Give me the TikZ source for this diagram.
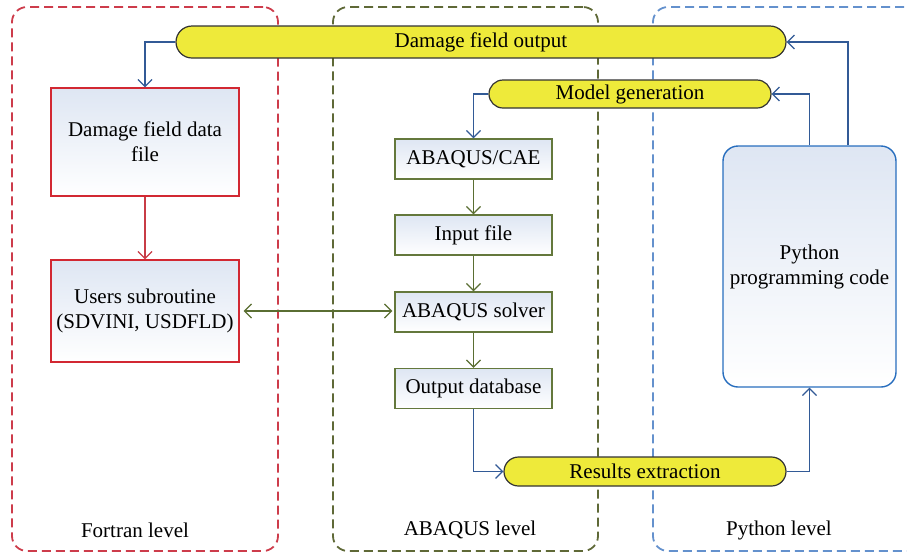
\documentclass[tikz,border=0pt]{standalone}
\usepackage{fontspec}
\setmainfont{Liberation Serif}
\usetikzlibrary{shapes.misc,arrows.meta}

\definecolor{pill}{RGB}{238,234,58}
\definecolor{framered}{RGB}{205,60,75}
\definecolor{framegreen}{RGB}{95,105,55}
\definecolor{frameblue}{RGB}{100,145,205}
\definecolor{boxred}{RGB}{210,40,50}
\definecolor{boxgreen}{RGB}{100,120,60}
\definecolor{boxblue}{RGB}{40,110,190}
\definecolor{lineblue}{RGB}{50,90,150}
\definecolor{linegreen}{RGB}{90,110,50}
\definecolor{linered}{RGB}{200,60,70}
\definecolor{boxfill}{RGB}{222,230,243}

\begin{document}
\begin{tikzpicture}[x=0.5pt,y=-0.5pt,font=\fontsize{10.5}{12.5}\selectfont,
  level/.style={draw,dashed,dash pattern=on 4.5pt off 2.5pt,line width=0.9pt,rounded corners=7.5pt,minimum width=#1,minimum height=272pt,inner sep=0pt},
  step box/.style={draw,line width=0.7pt,top color=boxfill,bottom color=white,align=center,inner sep=0pt},
  pill/.style={rounded rectangle,draw=black!80,line width=0.6pt,fill=pill,inner sep=0pt,minimum height=#1},
  tip/.style={-{Straight Barb[length=3.5pt,width=7pt]},line width=0.6pt},
  blueline/.style={tip,draw=lineblue},
  greenline/.style={tip,draw=linegreen},
  redline/.style={tip,draw=linered}]
  \useasboundingbox (0,0) rectangle (907,554);

  % three levels
  \node[level=133pt,draw=framered] (fortran) at (145,279) {};
  \node[level=132.5pt,draw=framegreen] (abaqus) at (465.5,279) {};
  \node[level=140pt,draw=frameblue] (python) at (793,279) {};
  \node (fortranlbl) at (135,530) {Fortran level};
  \node (abaquslbl) at (470,530) {ABAQUS level};
  \node (pythonlbl) at (779,530) {Python level};

  % yellow stages
  \node[pill=16pt,minimum width=305pt] (dfo) at (481,42) {Damage field output};
  \node[pill=14pt,minimum width=141pt] (modelgen) at (630,94) {Model generation};
  \node[pill=14.5pt,minimum width=141pt] (results) at (645,471.5) {Results extraction};

  % Fortran boxes
  \node[step box,draw=boxred,minimum width=94pt,minimum height=54pt] (datafile) at (145,142) {Damage field data\\file};
  \node[step box,draw=boxred,minimum width=94pt,minimum height=51pt] (subroutine) at (145,311) {Users subroutine\\(SDVINI, USDFLD)};

  % ABAQUS boxes
  \node[step box,draw=boxgreen,minimum width=78.5pt,minimum height=20pt] (cae) at (473.5,159) {ABAQUS/CAE};
  \node[step box,draw=boxgreen,minimum width=78.5pt,minimum height=20pt] (input) at (473.5,235) {Input file};
  \node[step box,draw=boxgreen,minimum width=78.5pt,minimum height=20pt] (solver) at (473.5,312) {ABAQUS solver};
  \node[step box,draw=boxgreen,minimum width=78.5pt,minimum height=20pt] (odb) at (473.5,388.5) {Output database};

  % Python box
  \node[step box,draw=boxblue,rounded corners=7.5pt,minimum width=86.5pt,minimum height=120.5pt] (code) at (809.5,266.5) {Python\\programming code};

  % connectors
  \draw[blueline] (dfo.west) -| (datafile.north);
  \draw[redline] (datafile) -- (subroutine);
  \draw[{Straight Barb[length=3.5pt,width=7pt]}-{Straight Barb[length=3.5pt,width=7pt]},line width=0.6pt,draw=linegreen,shorten <=2pt,shorten >=1pt]
    (subroutine.east) -- (subroutine.east -| solver.west);
  \draw[blueline] (modelgen.west) -| (cae.north);
  \foreach \a/\b in {cae/input,input/solver,solver/odb}{\draw[greenline] (\a) -- (\b); }
  \draw[blueline] (odb.south) |- (results.west);
  \draw[blueline] (results.east) -| (code.south);
  \draw[blueline] (code.north) |- (modelgen.east);
  \draw[blueline] ([xshift=19.25pt]code.north) |- (dfo.east);
\end{tikzpicture}
\end{document}
